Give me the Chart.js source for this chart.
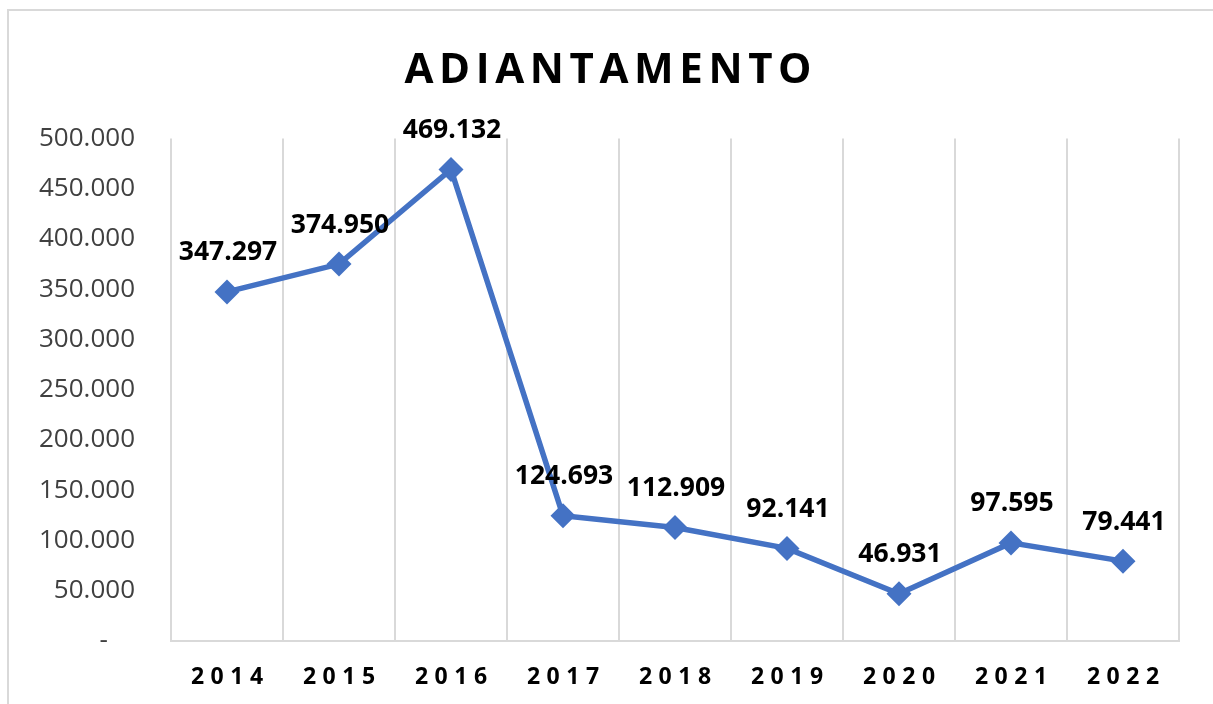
<!DOCTYPE html>
<html>
<head>
<meta charset="utf-8">
<script src="https://cdn.jsdelivr.net/npm/chart.js@4/dist/chart.umd.min.js"></script>
<style>
  html, body { margin: 0; padding: 0; background: #ffffff; }
  body { width: 1213px; height: 704px; overflow: hidden; position: relative; }
  #wrap { position: absolute; left: 7px; top: 9px; width: 1204px; height: 693px;
          border: 2px solid #d9d9d9; border-bottom: none; background: #fff; }
  #c { display: block; }
</style>
</head>
<body>
<div id="wrap"><canvas id="c" width="1204" height="693"></canvas></div>
<script>
const titleText = 'ADIANTAMENTO';
const categories = ['2014', '2015', '2016', '2017', '2018', '2019', '2020', '2021', '2022'];
const values = [347297, 374950, 469132, 124693, 112909, 92141, 46931, 97595, 79441];
const yMin = 0;
const yMax = 500000;
const yStep = 50000;

function fmt(v) {
  return String(Math.round(v)).replace(/\B(?=(\d{3})+(?!\d))/g, '.');
}

const FONT = "'Open Sans', 'Liberation Sans', sans-serif";

const spacingPlugin = {
  id: 'spacing',
  beforeLayout(chart) {
    const tb = chart.titleBlock;
    if (tb && !tb.__patched) {
      const orig = tb.draw;
      tb.draw = function () {
        const ctx = chart.ctx;
        ctx.save();
        ctx.letterSpacing = '5.6px';
        ctx.translate(16.8, 0);
        orig.apply(this, arguments);
        ctx.restore();
      };
      tb.__patched = true;
    }
    const xs = chart.scales.x;
    if (xs && !xs.__patched) {
      const origL = xs.drawLabels;
      xs.drawLabels = function () {
        const ctx = chart.ctx;
        ctx.save();
        ctx.letterSpacing = '6.5px';
        ctx.translate(3.25, 0);
        origL.apply(this, arguments);
        ctx.restore();
      };
      xs.__patched = true;
    }
  }
};

const labelPlugin = {
  id: 'pointLabels',
  afterDatasetsDraw(chart) {
    const ctx = chart.ctx;
    const meta = chart.getDatasetMeta(0);
    const data = chart.data.datasets[0].data;
    ctx.save();
    ctx.font = "bold 26.5px " + FONT;
    ctx.fillStyle = '#000000';
    ctx.textAlign = 'center';
    ctx.textBaseline = 'middle';
    meta.data.forEach((pt, i) => {
      ctx.fillText(fmt(data[i]), pt.x + 1, pt.y - 39);
    });
    ctx.restore();
  }
};

new Chart(document.getElementById('c'), {
  type: 'line',
  data: {
    labels: categories,
    datasets: [{
      data: values,
      borderColor: '#4472C4',
      backgroundColor: '#4472C4',
      borderWidth: 5.5,
      pointStyle: 'rectRot',
      pointRadius: 12.5,
      pointHoverRadius: 12.5,
      pointBorderWidth: 0,
      tension: 0,
      fill: false
    }]
  },
  options: {
    responsive: false,
    animation: false,
    events: [],
    layout: { padding: { left: 0, right: 34, top: 0, bottom: 0 } },
    plugins: {
      legend: { display: false },
      tooltip: { enabled: false },
      title: {
        display: true,
        text: titleText,
        color: '#000000',
        font: { family: FONT, size: 42, weight: 'bold', lineHeight: 1.2 },
        padding: { top: 35, bottom: 42 }
      }
    },
    scales: {
      x: {
        offset: true,
        grid: { display: true, offset: true, color: '#d9d9d9', lineWidth: 2, drawTicks: false },
        border: { display: true, color: '#d9d9d9', width: 2 },
        ticks: {
          color: '#000000',
          font: { family: FONT, size: 23, weight: 'bold' },
          padding: 23,
          maxRotation: 0,
          autoSkip: false
        },
        afterFit(s) { s.height = 63; }
      },
      y: {
        min: yMin,
        max: yMax,
        grid: { display: false, drawTicks: false },
        border: { display: false },
        ticks: {
          stepSize: yStep,
          color: '#404040',
          font: { family: FONT, size: 26 },
          padding: 36,
          callback: (v) => v === 0 ? '-    ' : fmt(v)
        },
        afterFit(s) { s.width = 162; }
      }
    }
  },
  plugins: [spacingPlugin, labelPlugin]
});
</script>
</body>
</html>
